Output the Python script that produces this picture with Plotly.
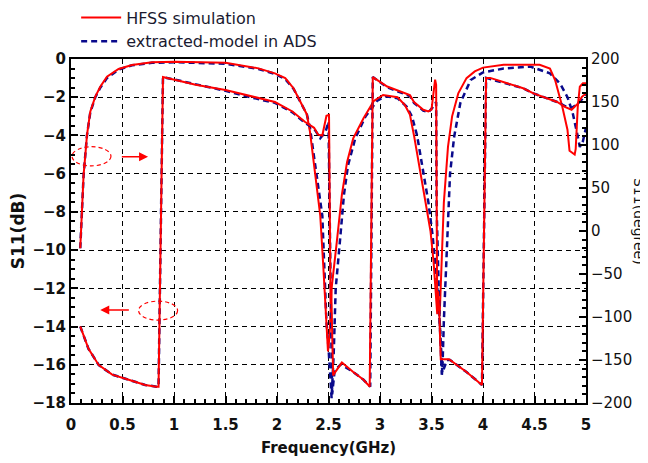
import plotly.graph_objects as go

# ---------------- data ----------------
freq_mag_hfss = [0.09, 0.122, 0.139, 0.155, 0.187, 0.236, 0.284, 0.349, 0.462, 0.592, 0.786, 1.01,
                 1.5, 1.82, 1.98, 2.08, 2.16, 2.24, 2.29, 2.32, 2.36, 2.42, 2.45, 2.48, 2.495, 2.51,
                 2.53, 2.58, 2.63, 2.68, 2.74, 2.84, 2.94, 3.03, 3.17, 3.24, 3.29, 3.33, 3.39, 3.44,
                 3.49, 3.52, 3.54, 3.555, 3.58, 3.60, 3.62, 3.66, 3.70, 3.76, 3.84, 3.92, 4.0, 4.2,
                 4.55, 4.65, 4.70, 4.77, 4.82, 4.84, 4.86, 4.89, 4.90, 4.92, 4.94, 4.97, 5.0]
mag_hfss = [-9.9, -6.07, -5.03, -3.98, -2.76, -1.97, -1.45, -0.93, -0.52, -0.31, -0.17, -0.14,
            -0.2, -0.49, -0.75, -1.0, -1.53, -2.4, -2.9, -3.8, -5.6, -8.2, -10.9, -13.75, -15.3, -14.5,
            -12.0, -9.6, -7.1, -5.4, -4.15, -3.1, -2.2, -1.88, -2.0, -2.4, -2.9, -4.0, -5.9, -7.5,
            -9.0, -10.6, -12.0, -13.3, -13.3, -10.5, -7.5, -4.6, -3.0, -1.8, -1.0, -0.65, -0.45, -0.3,
            -0.3, -0.5, -1.1, -2.5, -3.7, -4.8, -4.9, -5.0, -4.7, -2.5, -1.45, -1.27, -1.27]

freq_ph_hfss = [0.09, 0.17, 0.27, 0.40, 0.56, 0.72, 0.83, 0.85, 0.893, 1.01, 1.21, 1.5, 1.76, 1.98,
                2.15, 2.27, 2.36, 2.40, 2.44, 2.48, 2.505, 2.515, 2.52, 2.525, 2.535, 2.545, 2.56,
                2.63, 2.74, 2.84, 2.90, 2.93, 3.07, 3.29, 3.33, 3.42, 3.47, 3.50, 3.535, 3.545,
                3.555, 3.565, 3.575, 3.59, 3.67, 3.84, 3.99, 4.03, 4.07, 4.39, 4.49, 4.72, 4.80,
                4.86, 4.92, 4.96, 5.0]
ph_hfss = [-111, -137, -156, -167, -173, -179, -181, -181, 179, 176, 170, 164, 156, 150,
           139, 127, 120, 112, 111, 134, 135, -40, -85, -60, -120, -168, -165,
           -153, -164, -173, -181, 179, 168, 158, 150, 141, 139, 141, 176, 170,
           -93, -70, -93, -149, -149, -164, -179, 178, 178, 166, 160, 150, 144,
           141, 148, 156, 160]

freq_mag_ads = [0.09, 0.122, 0.139, 0.155, 0.187, 0.236, 0.284, 0.349, 0.462, 0.592, 0.786, 1.01,
                1.5, 1.82, 1.98, 2.08, 2.16, 2.24, 2.29, 2.32, 2.36, 2.40, 2.44, 2.45, 2.47, 2.48,
                2.50, 2.52, 2.53, 2.55, 2.57, 2.61, 2.65, 2.69, 2.76, 2.86, 2.97, 3.05, 3.17, 3.26,
                3.31, 3.36, 3.42, 3.47, 3.51, 3.55, 3.58, 3.605, 3.62, 3.65, 3.68, 3.72, 3.78, 3.88,
                4.0, 4.2, 4.46, 4.65, 4.75, 4.82, 4.87, 4.91, 4.94, 4.97, 5.0]
mag_ads = [-9.9, -6.1, -5.0, -4.0, -2.8, -2.0, -1.5, -1.0, -0.55, -0.33, -0.2, -0.17,
           -0.25, -0.52, -0.78, -1.05, -1.55, -2.4, -2.9, -3.6, -5.2, -6.8, -8.2, -9.6, -12.0, -13.75,
           -15.1, -17.2, -17.75, -15.5, -12.0, -9.6, -7.1, -5.55, -4.15, -3.0, -2.2, -1.95, -2.05, -2.5,
           -3.0, -4.0, -5.8, -7.5, -9.2, -11.5, -13.8, -16.4, -13.7, -9.5, -6.0, -4.07, -2.3, -1.1,
           -0.7, -0.5, -0.4, -0.75, -1.3, -2.0, -2.8, -3.8, -4.6, -4.3, -3.6]

freq_ph_ads = [0.09, 0.17, 0.27, 0.40, 0.56, 0.72, 0.83, 0.85, 0.893, 1.01, 1.21, 1.5, 1.76, 1.98,
               2.15, 2.27, 2.36, 2.42, 2.47, 2.50, 2.52, 2.535, 2.56, 2.62, 2.74, 2.84, 2.905,
               2.93, 3.07, 3.29, 3.33, 3.42, 3.47, 3.52, 3.545, 3.55, 3.575, 3.60, 3.65, 3.68,
               3.84, 3.99, 4.03, 4.39, 4.49, 4.72, 4.80, 4.86, 4.92, 4.97, 5.0]
ph_ads = [-111, -137, -156, -167, -173, -179, -181, -181, 179, 176, 170, 163, 155, 149,
          138, 126, 119, 108, 115, 127, -60, -190, -162, -155, -164, -173, -181,
          179, 167, 157, 149, 140, 138, 145, 150, 25, -90, -167, -150, -150,
          -164, -179, 178, 166, 160, 150, 145, 143, 148, 155, 158]

x_ticks = [0, 0.5, 1, 1.5, 2, 2.5, 3, 3.5, 4, 4.5, 5]
y_ticks = [0, -2, -4, -6, -8, -10, -12, -14, -16, -18]
y2_ticks = [200, 150, 100, 50, 0, -50, -100, -150, -200]

# annotation marks (dashed ellipses and arrows), in data units
ellipse_right = dict(x0=0.01, x1=0.388, y0=-4.59, y1=-5.59)
arrow_right = dict(x_from=0.479, x_to=0.748, y=-5.12)
ellipse_left = dict(x0=0.656, x1=1.035, y0=-12.67, y1=-13.66)
arrow_left = dict(x_from=0.576, x_to=0.284, y=-13.14)

RED = "#ff0000"
NAVY = "#0a0a8c"
FONT = "DejaVu Sans"

fig = go.Figure()
fig.add_trace(go.Scatter(x=freq_mag_ads, y=mag_ads, mode="lines", yaxis="y",
                         name="extracted-model in ADS", legendgroup="ads", legendrank=2,
                         line=dict(color=NAVY, width=2.5, dash="6px,4px")))
fig.add_trace(go.Scatter(x=freq_ph_ads, y=ph_ads, mode="lines", yaxis="y2",
                         name="extracted-model in ADS", legendgroup="ads", showlegend=False,
                         line=dict(color=NAVY, width=2.5, dash="6px,4px")))
fig.add_trace(go.Scatter(x=freq_mag_hfss, y=mag_hfss, mode="lines", yaxis="y",
                         name="HFSS simulation", legendgroup="hfss", legendrank=1,
                         line=dict(color=RED, width=2)))
fig.add_trace(go.Scatter(x=freq_ph_hfss, y=ph_hfss, mode="lines", yaxis="y2",
                         name="HFSS simulation", legendgroup="hfss", showlegend=False,
                         line=dict(color=RED, width=2)))

for e in (ellipse_right, ellipse_left):
    fig.add_shape(type="circle", xref="x", yref="y", x0=e["x0"], x1=e["x1"], y0=e["y0"], y1=e["y1"],
                  line=dict(color=RED, width=1.2, dash="4px,3px"))
for a in (arrow_right, arrow_left):
    fig.add_annotation(x=a["x_to"], y=a["y"], ax=a["x_from"], ay=a["y"], xref="x", yref="y",
                       axref="x", ayref="y", text="", showarrow=True, arrowhead=2, arrowsize=1.2,
                       arrowwidth=1.5, arrowcolor=RED)

fig.add_annotation(text="S11(degree)", xref="paper", yref="paper", x=1.103, y=0.529,
                   textangle=90, showarrow=False, font=dict(family=FONT, size=14, color="#111"),
                   xanchor="center", yanchor="middle")

axis_common = dict(showline=True, linewidth=2, linecolor="black", ticks="inside", tickwidth=1.5,
                   tickcolor="black", ticklen=7, zeroline=False)

# the page body has an 8px margin, so the figure is sized to fill the rest of the window
fig.update_layout(
    width=640, height=455,
    margin=dict(l=63, r=62, t=51, b=60, autoexpand=False),
    paper_bgcolor="white", plot_bgcolor="white",
    font=dict(family=FONT, color="#111"),
    showlegend=True,
    legend=dict(x=0.01, y=1.17, xanchor="left", yanchor="top", bgcolor="rgba(0,0,0,0)",
                font=dict(family=FONT, size=16, color="#1a1a30"), itemwidth=40,
                tracegroupgap=0),
    xaxis=dict(range=[0, 5], tickvals=x_ticks, mirror=True, showgrid=True, gridcolor="black",
               griddash="5px,4px", gridwidth=1.2, ticklabelstandoff=7,
               tickfont=dict(family=FONT, size=15, weight="bold"),
               minor=dict(ticks="inside", ticklen=4, dtick=0.1, tickcolor="black", showgrid=False),
               title=dict(text="Frequency(GHz)", font=dict(family=FONT, size=15, weight="bold"),
                          standoff=9),
               **axis_common),
    yaxis=dict(range=[-18, 0], tickvals=y_ticks, showgrid=True, gridcolor="black",
               griddash="5px,4px", gridwidth=1.2,
               tickfont=dict(family=FONT, size=15, weight="bold"),
               minor=dict(ticks="inside", ticklen=4, dtick=0.5, tickcolor="black", showgrid=False),
               title=dict(text="S11(dB)", font=dict(family=FONT, size=17, weight="bold"), standoff=11),
               **axis_common),
    yaxis2=dict(range=[-200, 200], tickvals=y2_ticks, overlaying="y", side="right", showgrid=False,
                tickfont=dict(family=FONT, size=15),
                minor=dict(ticks="inside", ticklen=4, dtick=10, tickcolor="black", showgrid=False),
                **axis_common),
)

fig.write_html("out.html")
